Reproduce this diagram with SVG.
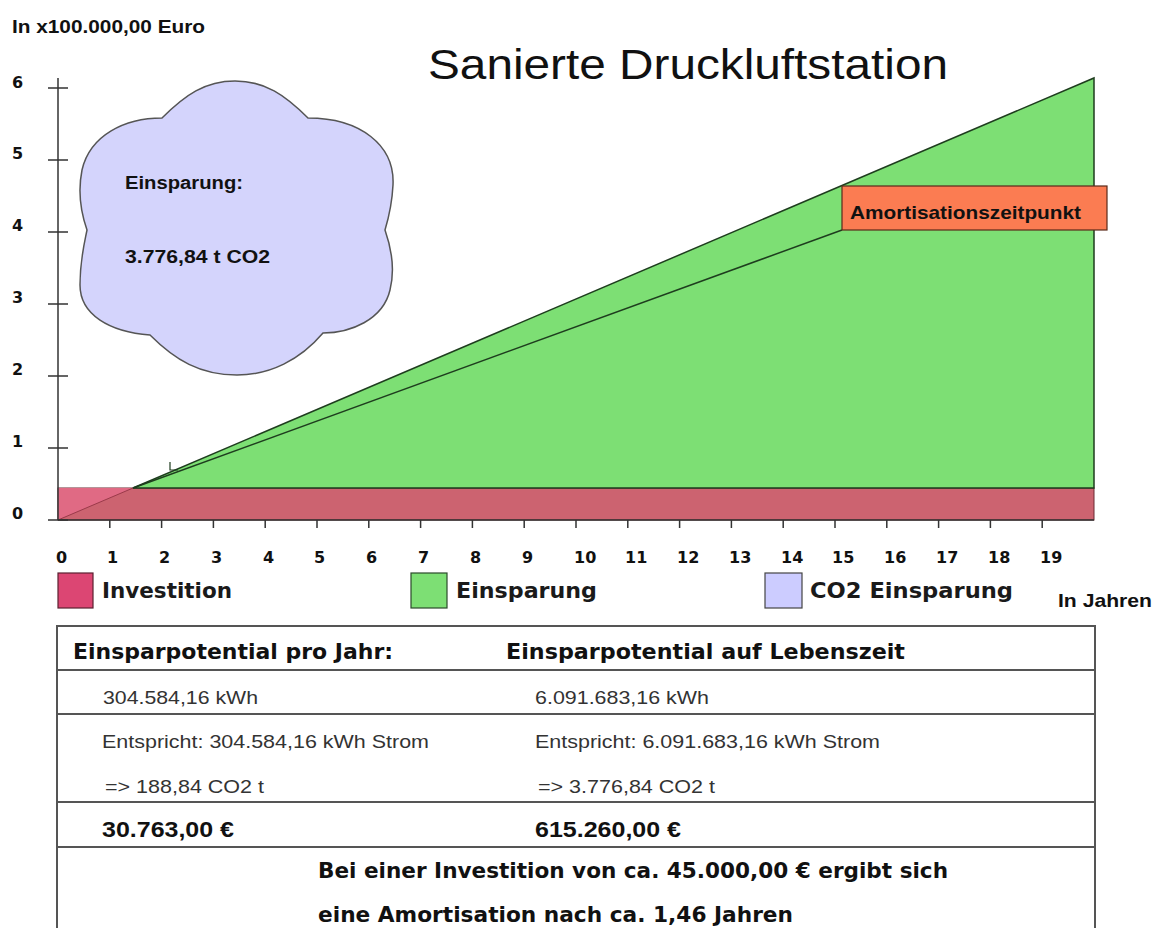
<svg xmlns="http://www.w3.org/2000/svg" width="1154" height="928" viewBox="0 0 1154 928">
<style>
.lbl{font-family:"Liberation Sans",Arial,sans-serif;font-weight:bold;fill:#111}
.tick{font-family:"DejaVu Sans",Verdana,sans-serif;font-weight:bold;font-size:16px;fill:#111}
.leg{font-family:"DejaVu Sans",Verdana,sans-serif;font-weight:bold;font-size:22px;fill:#1a1a1a}
.th{font-family:"DejaVu Sans",Verdana,sans-serif;font-weight:bold;font-size:22px;fill:#111}
.td{font-family:"Liberation Sans",Arial,sans-serif;font-size:19px;fill:#333}
.tb{font-family:"Liberation Sans",Arial,sans-serif;font-weight:bold;font-size:22px;fill:#111}
.ax{stroke:#333;stroke-width:1.5;fill:none}
</style>
<rect width="1154" height="928" fill="#fff"/>
<g id="title">
<text x="428" y="79" font-family="Liberation Sans,Arial,sans-serif" font-size="42" fill="#111" textLength="520" lengthAdjust="spacingAndGlyphs">Sanierte Druckluftstation</text>
<text class="lbl" x="12" y="33" font-size="18" textLength="193" lengthAdjust="spacingAndGlyphs">In x100.000,00 Euro</text>
</g>
<g id="chart-areas">
<rect x="58" y="488" width="1036" height="32" fill="#cc6370" stroke="#6b2a33" stroke-width="1"/>
<polygon points="58,488 133,488 58,520" fill="#e06a84"/>
<line x1="58" y1="520" x2="133" y2="488" stroke="#9a3a4a" stroke-width="1"/>
<polygon points="133,488 1094,78 1094,488" fill="#7ddf74" stroke="#1e3d1e" stroke-width="1.5"/>
<line x1="133" y1="488" x2="842" y2="230" stroke="#1e3d1e" stroke-width="1.5"/>
<path d="M170,462 V470 H178" stroke="#1e3d1e" stroke-width="1.2" fill="none"/>
</g>
<g id="axes">
<line class="ax" x1="58" y1="78" x2="58" y2="520"/>
<line class="ax" x1="58" y1="520" x2="1094" y2="520"/>
<path class="ax" d="M48,88H68M48,160H68M48,232H68M48,304H68M48,376H68M48,448H68M48,520H68"/>
<path class="ax" d="M109.8,520v8M161.6,520v8M213.4,520v8M265.2,520v8M317,520v8M368.8,520v8M420.6,520v8M472.4,520v8M524.2,520v8M576,520v8M627.8,520v8M679.6,520v8M731.4,520v8M783.2,520v8M835,520v8M886.8,520v8M938.6,520v8M990.4,520v8M1042.2,520v8"/>
<g class="tick">
<text x="12" y="88">6</text><text x="12" y="159">5</text><text x="12" y="231">4</text><text x="12" y="303">3</text><text x="12" y="375">2</text><text x="12" y="447">1</text><text x="12" y="519">0</text>
</g>
<g class="tick">
<text x="56" y="563">0</text><text x="107" y="563">1</text><text x="159" y="563">2</text><text x="211" y="563">3</text><text x="263" y="563">4</text><text x="314" y="563">5</text><text x="366" y="563">6</text><text x="418" y="563">7</text><text x="470" y="563">8</text><text x="522" y="563">9</text><text x="574" y="563">10</text><text x="625" y="563">11</text><text x="677" y="563">12</text><text x="729" y="563">13</text><text x="781" y="563">14</text><text x="832" y="563">15</text><text x="884" y="563">16</text><text x="936" y="563">17</text><text x="988" y="563">18</text><text x="1040" y="563">19</text>
</g>
<text class="lbl" x="1058" y="607" font-size="19" textLength="94" lengthAdjust="spacingAndGlyphs">In Jahren</text>
</g>
<g id="cloud">
<path d="M162,118 C185,95 205,81 235,81 C265,81 285,95 308,118 C360,118 395,145 393,185 C392,205 388,220 385,230 C392,250 395,270 390,290 C383,320 350,333 323,333 C300,360 270,375 237,375 C200,375 175,360 150,335 C110,332 80,315 80,285 C80,260 84,245 87,230 C80,210 78,190 82,170 C90,135 125,118 162,118 Z" fill="#d4d4fc" stroke="#555" stroke-width="1.5"/>
<text class="lbl" x="125" y="189" font-size="18" textLength="118" lengthAdjust="spacingAndGlyphs">Einsparung:</text>
<text class="lbl" x="125" y="263" font-size="18" textLength="145" lengthAdjust="spacingAndGlyphs">3.776,84 t CO2</text>
</g>
<g id="amortisation">
<rect x="842" y="186" width="265" height="44" fill="#fb7c52" stroke="#5a2a1a" stroke-width="1.2"/>
<text class="lbl" x="850" y="219" font-size="19" textLength="231" lengthAdjust="spacingAndGlyphs">Amortisationszeitpunkt</text>
</g>
<g id="legend">
<rect x="58" y="573" width="35" height="35" fill="#dc4673" stroke="#5a2030" stroke-width="1.2"/>
<text class="leg" x="102" y="598" textLength="130" lengthAdjust="spacingAndGlyphs">Investition</text>
<rect x="411" y="573" width="36" height="35" fill="#7ddf74" stroke="#2a4a2a" stroke-width="1.2"/>
<text class="leg" x="456" y="598" textLength="141" lengthAdjust="spacingAndGlyphs">Einsparung</text>
<rect x="765" y="573" width="37" height="35" fill="#ccccff" stroke="#444" stroke-width="1.2"/>
<text class="leg" x="810" y="598" textLength="203" lengthAdjust="spacingAndGlyphs">CO2 Einsparung</text>
</g>
<g id="table">
<rect x="57" y="626" width="1038" height="320" fill="#fff" stroke="#555" stroke-width="2"/>
<path d="M57,670H1095M57,714H1095M57,802H1095M57,847H1095" stroke="#555" stroke-width="2"/>
<text class="th" x="73" y="659" textLength="320" lengthAdjust="spacingAndGlyphs">Einsparpotential pro Jahr:</text>
<text class="th" x="506" y="659" textLength="399" lengthAdjust="spacingAndGlyphs">Einsparpotential auf Lebenszeit</text>
<text class="td" x="103" y="704" textLength="155" lengthAdjust="spacingAndGlyphs">304.584,16 kWh</text>
<text class="td" x="535" y="704" textLength="174" lengthAdjust="spacingAndGlyphs">6.091.683,16 kWh</text>
<text class="td" x="102" y="748" textLength="327" lengthAdjust="spacingAndGlyphs">Entspricht: 304.584,16 kWh Strom</text>
<text class="td" x="535" y="748" textLength="345" lengthAdjust="spacingAndGlyphs">Entspricht: 6.091.683,16 kWh Strom</text>
<text class="td" x="105" y="793" textLength="159" lengthAdjust="spacingAndGlyphs">=&gt; 188,84 CO2 t</text>
<text class="td" x="538" y="793" textLength="177" lengthAdjust="spacingAndGlyphs">=&gt; 3.776,84 CO2 t</text>
<text class="tb" x="102" y="837" textLength="132" lengthAdjust="spacingAndGlyphs">30.763,00 €</text>
<text class="tb" x="535" y="837" textLength="146" lengthAdjust="spacingAndGlyphs">615.260,00 €</text>
<text class="th" x="318" y="878" textLength="630" lengthAdjust="spacingAndGlyphs">Bei einer Investition von ca. 45.000,00 € ergibt sich</text>
<text class="th" x="318" y="922" textLength="475" lengthAdjust="spacingAndGlyphs">eine Amortisation nach ca. 1,46 Jahren</text>
</g>
</svg>
